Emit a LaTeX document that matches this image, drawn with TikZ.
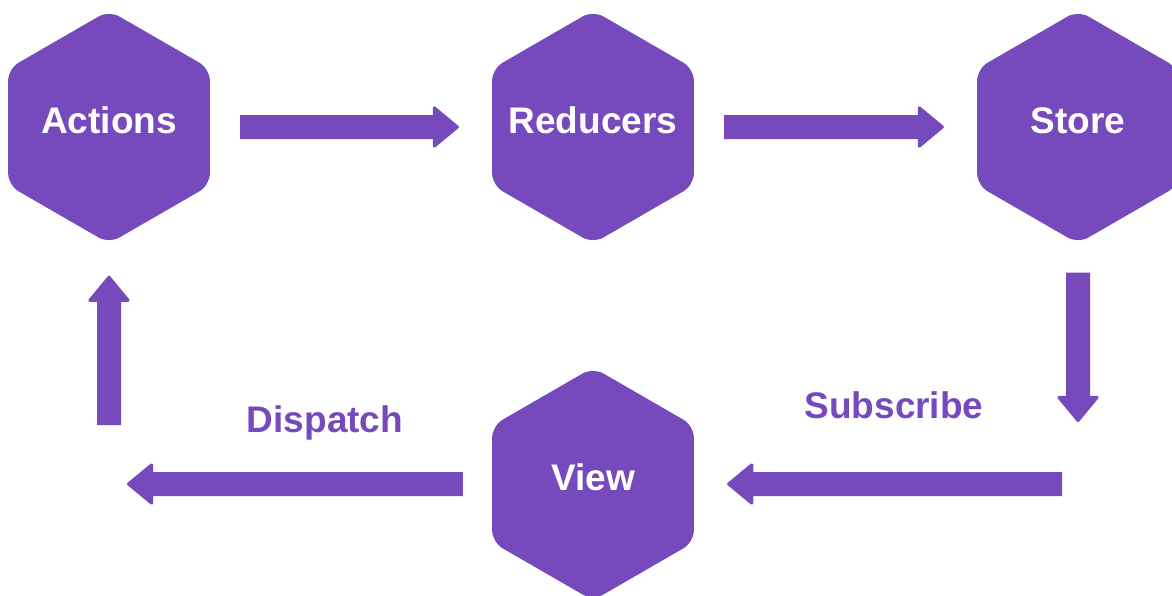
\documentclass[tikz,border=0pt]{standalone}
\usepackage{fontspec}
\setmainfont{Liberation Sans}
\usetikzlibrary{shapes.geometric,arrows.meta}

\definecolor{reduxpurple}{HTML}{764ABC}

\begin{document}
\begin{tikzpicture}[x=1pt, y=-1pt,
        hex/.style={regular polygon, regular polygon sides=6, shape border rotate=30,
            minimum size=233pt, inner sep=-40pt, rounded corners=12pt,
            fill=reduxpurple, text=white, text height=27pt, text depth=15pt,
            font=\bfseries\fontsize{37}{44}\selectfont},
        flow/.style={draw=reduxpurple, line width=24pt,
            -{Triangle[width=44pt, length=27pt, line width=3pt, round]}},
        lbl/.style={anchor=base, text=reduxpurple, font=\bfseries\fontsize{37}{44}\selectfont}]
            \useasboundingbox[fill=white] (0,0) rectangle (1172,595);

            \node[hex] (actions) at (109, 127) {Actions};
            \node[hex] (reducers) at (593, 127) {Reducers};
            \node[hex] (store) at (1078, 127) {Store};
            \node[hex] (view) at (593, 484) {View};

            \coordinate (sub) at (1078, 422);
            \coordinate (back) at (1062, 484);
            \coordinate (disp) at (127, 484);
            \coordinate (up) at (109, 425);

            \draw[flow, shorten <=30pt, shorten >=33pt] (actions) -- (reducers);
            \draw[flow, shorten <=30pt, shorten >=33pt] (reducers) -- (store);
            \draw[flow, shorten <=29pt] (store) -- (sub);
            \draw[flow, shorten >=33pt] (back) -- (view);
            \draw[flow, shorten <=29pt] (view) -- (disp);
            \draw[flow, shorten >=32pt] (up) -- (actions);

            \node[lbl] (subscribe) at (894, 418) {Subscribe};
            \node[lbl] (dispatch) at (325, 432) {Dispatch};
        \end{tikzpicture}
\end{document}
